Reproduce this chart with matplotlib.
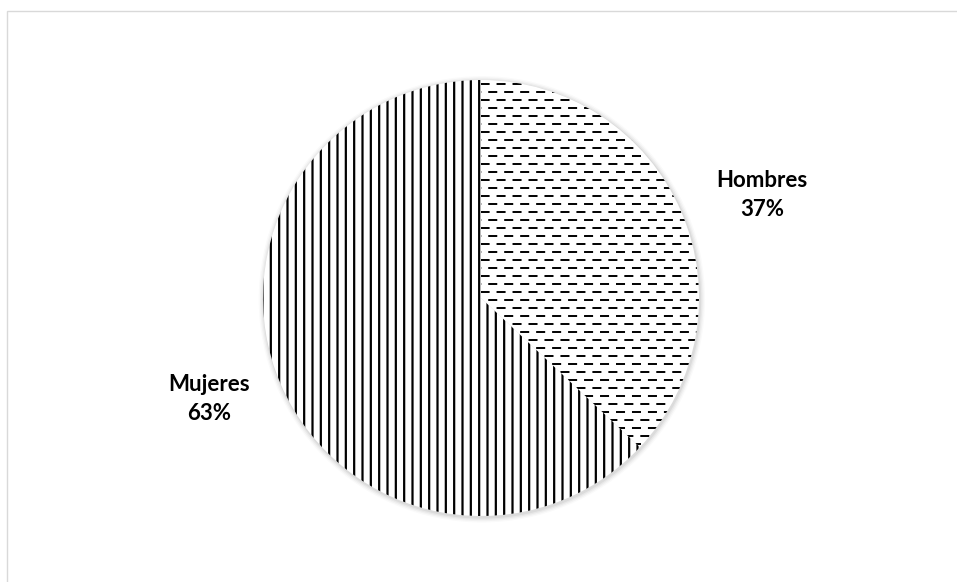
import matplotlib.pyplot as plt
import numpy as np
from matplotlib.patches import Circle, Rectangle

plt.rcParams["lines.scale_dashes"] = False
plt.rcParams["hatch.linewidth"] = 1.6

labels = ["Hombres", "Mujeres"]
values = [37, 63]

W, H, DPI = 957, 582, 100
CX, CY, R = 481, 298, 218  # pie centre / radius in pixels

fig = plt.figure(figsize=(W / DPI, H / DPI), dpi=DPI)
ax = fig.add_axes([0, 0, 1, 1])

# light chart-area frame
fig.patches.append(Rectangle((7 / W, -0.1), 1.2, 1 - 11 / H + 0.1, transform=fig.transFigure,
                             fill=False, edgecolor="#d9d9d9", linewidth=1.0))

# soft shadow around the pie
for i, a in enumerate([0.05, 0.04, 0.03, 0.02]):
    ax.add_patch(Circle((0.004, -0.006), 1 + 0.006 * (i + 1), color="black", alpha=a, lw=0, zorder=0))

wedges, _ = ax.pie(values, startangle=90, counterclock=False, radius=1,
                   colors=["white", "white"], wedgeprops=dict(linewidth=0, edgecolor="black"))
wedges[1].set_hatch("||")
for w in wedges:
    w.set_zorder(1)

# dashed horizontal texture for Hombres
step = 8 / R
ys = np.arange(-1, 1, step)
for k, y in enumerate(ys):
    off = 0 if k % 2 == 0 else 6
    ln, = ax.plot([-1.1, 1.1], [y, y], color="black", lw=1.4,
                  linestyle=(off, (6.5, 5.0)), zorder=2)
    ln.set_clip_path(wedges[0])

font = dict(family=["Lato", "DejaVu Sans"], fontsize=16, fontweight="bold", ha="center", va="center",
            linespacing=1.5)
ax.text((762 - CX) / R, (CY - 195) / R, f"{labels[0]}\n{values[0]}%", **font)
ax.text((209 - CX) / R, (CY - 399) / R, f"{labels[1]}\n{values[1]}%", **font)

ax.set_xlim(-CX / R, (W - CX) / R)
ax.set_ylim(-(H - CY) / R, CY / R)
ax.set_aspect("equal")
ax.axis("off")

fig.savefig("out.png", dpi=DPI)
